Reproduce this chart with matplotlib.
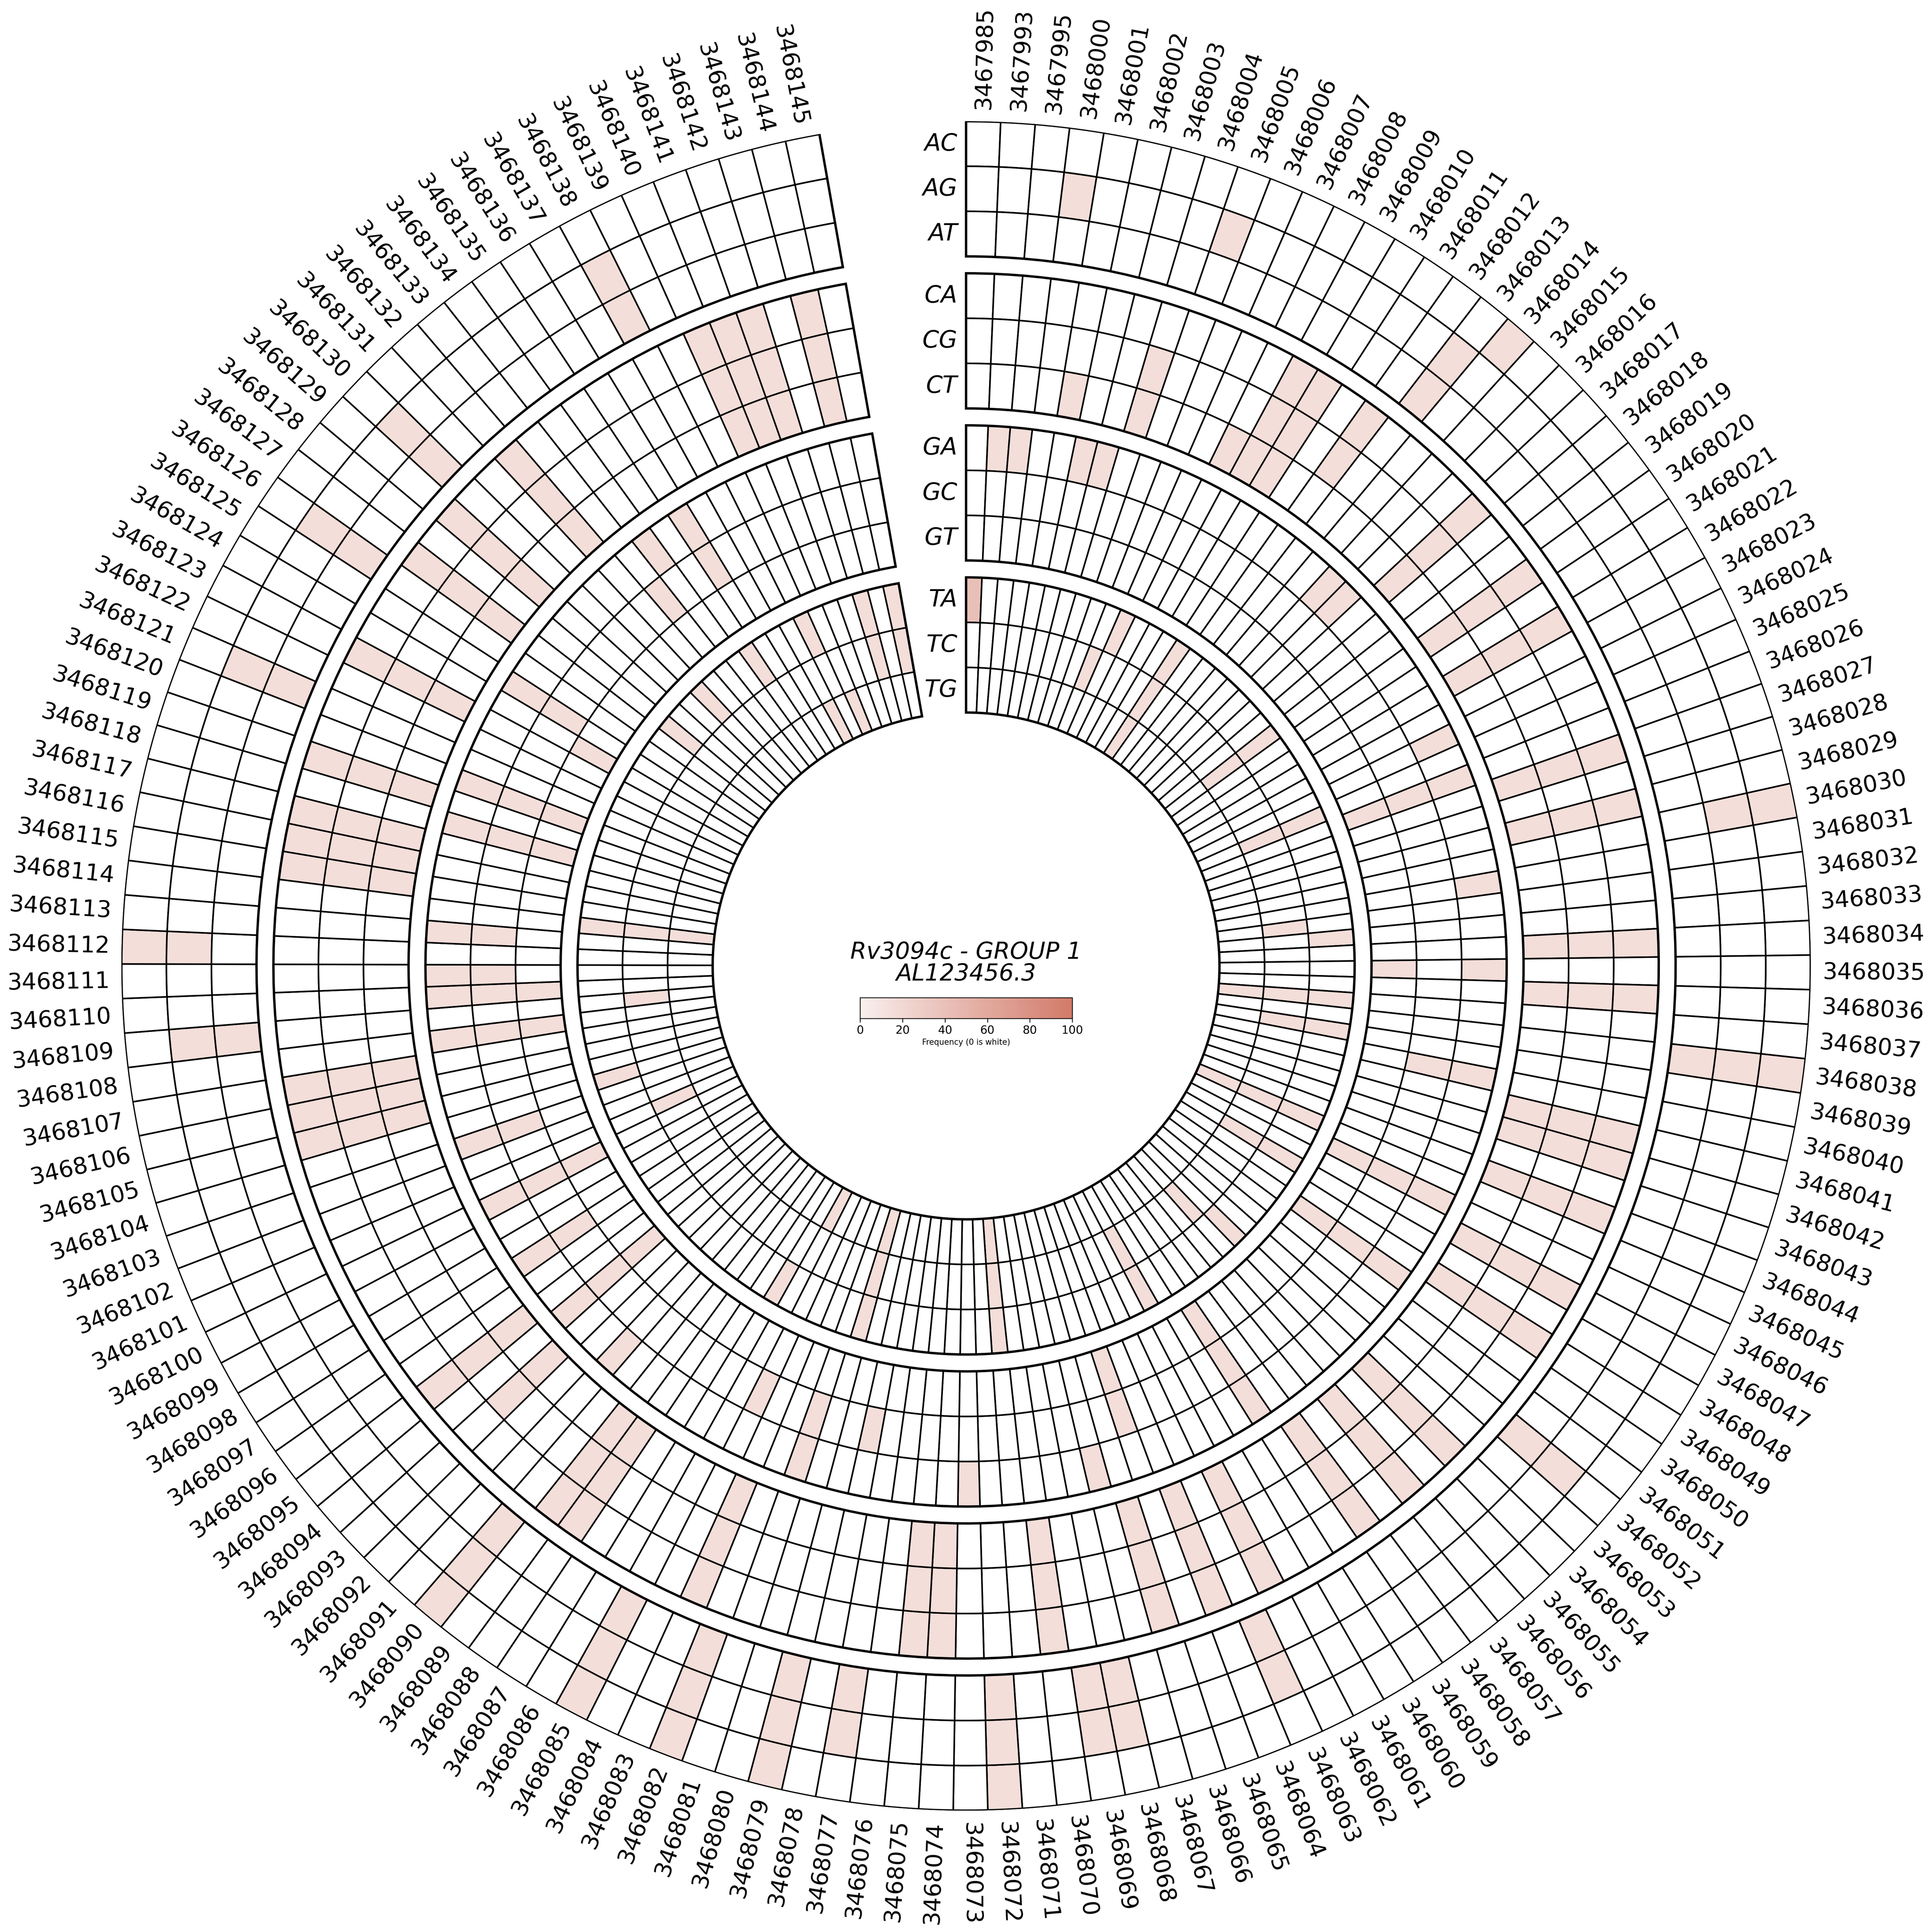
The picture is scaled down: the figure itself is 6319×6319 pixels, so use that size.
import numpy as np
import matplotlib
matplotlib.use("Agg")
import matplotlib.pyplot as plt
from matplotlib.colors import LinearSegmentedColormap, Normalize
from matplotlib.cm import ScalarMappable
import matplotlib.transforms as mtransforms

# ---------------- data ----------------
positions = [3467985, 3467993, 3467995] + list(range(3468000, 3468146))

ring_groups = [["AC", "AG", "AT"], ["CA", "CG", "CT"], ["GA", "GC", "GT"], ["TA", "TC", "TG"]]

# non-zero frequencies (position: frequency); every other cell is 0
AC = {3468014: 15, 3468030: 15, 3468038: 15, 3468072: 15, 3468079: 15, 3468082: 15,
      3468085: 15, 3468090: 15, 3468112: 15}
AG = {3468000: 15, 3468005: 15, 3468013: 15, 3468030: 15, 3468038: 15, 3468052: 15,
      3468063: 15, 3468068: 15, 3468069: 15, 3468072: 15, 3468077: 15, 3468079: 15,
      3468082: 15, 3468085: 15, 3468090: 15, 3468109: 15, 3468112: 15, 3468121: 15,
      3468126: 15, 3468130: 15, 3468138: 15}
AT = {3468013: 15, 3468038: 15, 3468052: 15, 3468063: 15, 3468068: 15, 3468069: 15,
      3468072: 15, 3468077: 15, 3468079: 15, 3468082: 15, 3468085: 15, 3468090: 15,
      3468109: 15, 3468121: 15, 3468126: 15, 3468130: 15, 3468138: 15}

CA = {3468009: 15, 3468010: 15, 3468012: 15, 3468017: 15, 3468020: 15, 3468022: 15,
      3468027: 15, 3468029: 15, 3468034: 15, 3468036: 15, 3468041: 15, 3468042: 15,
      3468044: 15, 3468047: 15, 3468049: 15, 3468054: 15, 3468056: 15, 3468058: 15,
      3468062: 15, 3468064: 15, 3468066: 15, 3468070: 15, 3468074: 15, 3468075: 15,
      3468083: 15, 3468088: 15, 3468089: 15, 3468095: 15, 3468105: 15, 3468106: 15,
      3468107: 15, 3468115: 15, 3468116: 15, 3468117: 15, 3468119: 15, 3468123: 15,
      3468127: 15, 3468129: 15, 3468132: 15, 3468140: 15, 3468141: 15, 3468142: 15,
      3468144: 15}
CG = {3468004: 15, 3468009: 15, 3468010: 15, 3468012: 15, 3468017: 15, 3468020: 15,
      3468022: 15, 3468027: 15, 3468029: 15, 3468034: 15, 3468036: 15, 3468041: 15,
      3468042: 15, 3468044: 15, 3468047: 15, 3468049: 15, 3468054: 15, 3468056: 15,
      3468058: 15, 3468062: 15, 3468064: 15, 3468066: 15, 3468070: 15, 3468074: 15,
      3468075: 15, 3468083: 15, 3468088: 15, 3468089: 15, 3468093: 15, 3468095: 15,
      3468105: 15, 3468106: 15, 3468107: 15, 3468115: 15, 3468116: 15, 3468117: 15,
      3468119: 15, 3468123: 15, 3468127: 15, 3468129: 15, 3468132: 15, 3468140: 15,
      3468141: 15, 3468142: 15, 3468144: 15}
CT = {3468001: 15, 3468004: 15, 3468008: 15, 3468009: 15, 3468010: 15, 3468017: 15,
      3468020: 15, 3468022: 15, 3468027: 15, 3468029: 15, 3468034: 15, 3468036: 15,
      3468041: 15, 3468042: 15, 3468044: 15, 3468047: 15, 3468049: 15, 3468054: 15,
      3468056: 15, 3468058: 15, 3468062: 15, 3468064: 15, 3468066: 15, 3468070: 15,
      3468074: 15, 3468075: 15, 3468083: 15, 3468088: 15, 3468089: 15, 3468093: 15,
      3468095: 15, 3468105: 15, 3468106: 15, 3468107: 15, 3468115: 15, 3468116: 15,
      3468117: 15, 3468119: 15, 3468123: 15, 3468127: 15, 3468129: 15, 3468132: 15,
      3468140: 15, 3468141: 15, 3468142: 15, 3468144: 15}

GA = {3467993: 15, 3467995: 15, 3468002: 15, 3468003: 15, 3468015: 15, 3468016: 15,
      3468024: 15, 3468026: 15, 3468031: 15, 3468035: 15, 3468040: 15, 3468046: 15,
      3468050: 15, 3468059: 15, 3468067: 15, 3468073: 15, 3468081: 15, 3468091: 15,
      3468094: 15, 3468097: 15, 3468100: 15, 3468103: 15, 3468108: 15, 3468110: 15,
      3468111: 15, 3468113: 15, 3468118: 15, 3468120: 15, 3468125: 15, 3468134: 15,
      3468136: 15}
GC = {3468026: 15, 3468040: 15, 3468046: 15, 3468050: 15, 3468059: 15, 3468065: 15,
      3468078: 15, 3468081: 15, 3468084: 15, 3468094: 15, 3468097: 15, 3468100: 15,
      3468103: 15, 3468108: 15, 3468110: 15, 3468111: 15, 3468113: 15, 3468118: 15,
      3468120: 15, 3468125: 15, 3468133: 15, 3468136: 15}
GT = {3468026: 15, 3468035: 15, 3468046: 15, 3468050: 15, 3468059: 15, 3468065: 15,
      3468094: 15, 3468100: 15, 3468108: 15, 3468110: 15, 3468118: 15, 3468120: 15,
      3468124: 15}

TA = {3467985: 40, 3468007: 15, 3468011: 15, 3468019: 15, 3468025: 15, 3468033: 15,
      3468037: 15, 3468039: 15, 3468045: 15, 3468048: 15, 3468054: 15, 3468061: 15,
      3468071: 15, 3468080: 15, 3468086: 15, 3468104: 15, 3468114: 15, 3468128: 15,
      3468131: 15, 3468135: 15, 3468139: 15, 3468143: 15, 3468145: 15}
TC = {3468006: 15, 3468011: 15, 3468019: 15, 3468025: 15, 3468032: 15, 3468037: 15,
      3468039: 15, 3468045: 15, 3468048: 15, 3468055: 15, 3468061: 15, 3468071: 15,
      3468080: 15, 3468101: 15, 3468109: 15, 3468114: 15, 3468143: 15, 3468145: 15}
TG = {3468011: 15, 3468037: 15, 3468045: 15, 3468071: 15, 3468080: 15, 3468085: 15,
      3468114: 15, 3468138: 15, 3468140: 15}

frequencies = {"AC": AC, "AG": AG, "AT": AT, "CA": CA, "CG": CG, "CT": CT,
               "GA": GA, "GC": GC, "GT": GT, "TA": TA, "TC": TC, "TG": TG}

title_text = "Rv3094c - GROUP 1\nAL123456.3"
cbar_ticks = [0, 20, 40, 60, 80, 100]
cbar_label = "Frequency (0 is white)"

# ---------------- figure ----------------
SIZE = 6766 / 400          # inches (layout designed for a 6766 px canvas)
DPI = 373.6                # ~6320 px output (keeps the PNG under 40 Mpx)
fig = plt.figure(figsize=(SIZE, SIZE), dpi=DPI)
fig.patch.set_facecolor("white")

R_FRAC = 2958 / 6766
ax = fig.add_axes([0.5 - R_FRAC, 0.5 - R_FRAC, 2 * R_FRAC, 2 * R_FRAC], projection="polar")
ax.set_theta_offset(np.pi / 2)
ax.set_theta_direction(-1)
ax.set_ylim(0, 1)
ax.axis("off")

cmap = LinearSegmentedColormap.from_list("freq", ["#f9efed", "#d27a69"])
norm = Normalize(0, 100)

n = len(positions)
span = np.deg2rad(350)
w = span / n
thetas = np.arange(n) * w

ring_bottoms = [0.84, 0.66, 0.48, 0.30]
ring_h = 0.16
row_h = ring_h / 3

label_trans = mtransforms.offset_copy(ax.transData, fig=fig, x=-5.5, y=0, units="points")

for g, group in enumerate(ring_groups):
    for k, sub in enumerate(group):
        bottom = ring_bottoms[g] + (2 - k) * row_h
        vals = [frequencies[sub].get(p, 0) for p in positions]
        colors = ["white" if v == 0 else cmap(norm(v)) for v in vals]
        ax.bar(thetas, row_h, width=w, bottom=bottom, align="edge",
               color=colors, edgecolor="black", linewidth=1.0)
        ax.text(0, bottom + row_h / 2, sub, transform=label_trans, ha="right",
                va="center", fontsize=15, style="italic")
    ax.bar(0, ring_h, width=span, bottom=ring_bottoms[g], align="edge",
           fill=False, edgecolor="black", linewidth=1.5)

for i, p in enumerate(positions):
    th = thetas[i] + w / 2
    deg = np.rad2deg(th)
    if deg < 180:
        rot, ha = 90 - deg, "left"
    else:
        rot, ha = 270 - deg, "right"
    ax.text(th, 1.014, str(p), rotation=rot, rotation_mode="anchor",
            ha=ha, va="center", fontsize=14.5)

fig.text(0.5, 0.5015, title_text, ha="center", va="center", fontsize=14.7,
         style="italic", linespacing=0.95)

cax = fig.add_axes([3012 / 6766, 1 - 3567 / 6766, 743 / 6766, 73 / 6766])
cb = fig.colorbar(ScalarMappable(norm=norm, cmap=cmap), cax=cax, orientation="horizontal")
cb.set_ticks(cbar_ticks)
cb.ax.tick_params(labelsize=7.2, length=2.5, width=0.5, pad=1.5)
cb.set_label(cbar_label, fontsize=5, labelpad=1.5)
cb.outline.set_linewidth(0.5)

fig.savefig("out.png", dpi=DPI, facecolor="white")
